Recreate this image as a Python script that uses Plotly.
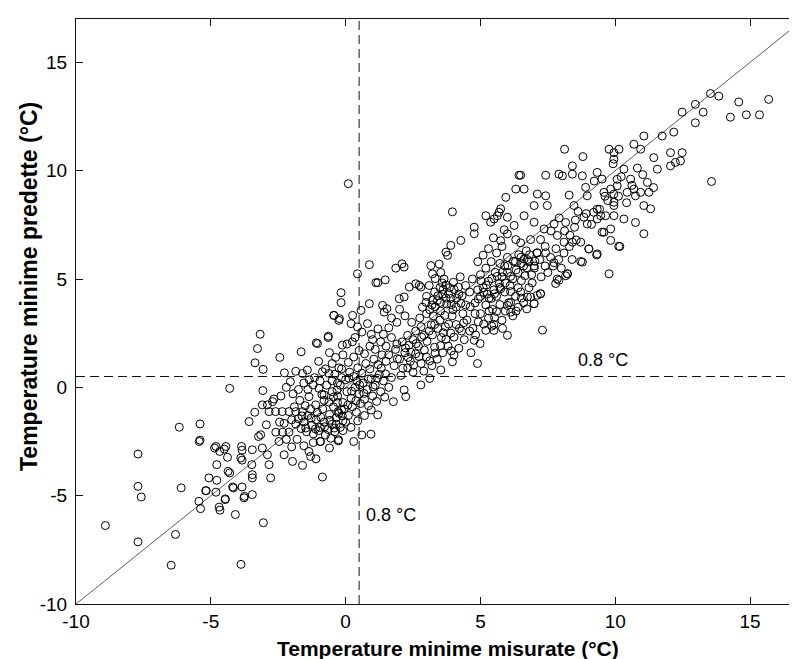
import plotly.graph_objects as go

# ---- axis settings / reference values ----
x_limits = [-10, 17]
y_limits = [-10, 17]
tick_values = [-10, -5, 0, 5, 10, 15]
tick_labels = ["-10", "-5", "0", "5", "10", "15"]
threshold_x = 0.5
threshold_y = 0.5
label_text = "0.8 °C"
x_title = "Temperature minime misurate (°C)"
y_title = "Temperature minime predette (°C)"

cold_pts = [
    (-8.91, -6.38), (-7.70, -3.08), (-7.70, -4.57), (-7.58, -5.06), (-7.70, -7.13),
    (-6.17, -1.84), (-6.10, -4.64), (-6.31, -6.79), (-6.47, -8.21), (-5.40, -1.69),
    (-5.43, -2.50), (-5.40, -2.44), (-5.44, -5.26), (-5.38, -5.60), (-5.17, -4.77),
    (-5.07, -4.18), (-4.78, -3.57), (-4.78, -4.29), (-4.81, -4.84), (-4.81, -2.73),
    (-4.67, -2.96), (-4.44, -2.73), (-4.38, -3.23), (-4.69, -5.53), (-4.66, -5.67),
    (-4.46, -5.15), (-4.36, -3.88), (-4.30, -3.95), (-4.30, -0.05), (-4.19, -4.60),
    (-4.09, -5.87), (-3.88, -8.17), (-3.86, -2.73), (-3.89, -3.26), (-3.84, -3.36),
    (-3.84, -4.60), (-3.75, -5.03), (-3.77, -5.10), (-4.86, -2.80), (-4.50, -2.85),
    (-3.84, -2.90), (-3.58, -1.58), (-3.46, -4.03), (-3.46, -4.18), (-3.46, -4.95),
    (-3.48, -3.57), (-3.46, -2.88), (-3.37, -1.15), (-3.36, 1.13), (-3.27, 1.79),
    (-3.17, 2.45), (-3.23, -2.27), (-3.15, -2.19), (-3.09, -0.81), (-3.09, -2.80),
    (-3.07, -0.15), (-3.06, 0.83), (-5.19, -4.77), (-4.47, -5.18), (-4.16, -4.64),
    (-3.05, -6.25),
]

cool_pts = [
    (-2.44, 1.38), (-2.27, 0.67), (-2.05, 0.26), (-1.85, 0.74), (-1.60, 0.64),
    (-1.42, 0.80), (-1.65, 1.64), (-1.09, 2.05), (-0.65, 2.30), (-0.43, 3.32),
    (-0.25, 3.09), (-0.12, 1.95), (-0.37, 1.38), (-0.86, 0.72), (-0.62, 0.64),
    (-1.21, 0.11), (-0.99, -0.05), (-0.80, -0.35), (-1.36, -0.43), (-1.11, -0.81),
    (-2.90, -0.81), (-2.71, -0.66), (-2.66, -0.54), (-2.84, -1.12), (-2.60, -1.12),
    (-2.35, -1.12), (-2.10, -1.12), (-1.85, -1.12), (-1.60, -1.12), (-2.94, -1.73),
    (-2.28, -1.66), (-2.59, -2.07), (-2.34, -2.07), (-2.10, -2.07), (-0.93, -2.50),
    (-0.27, -2.47), (-2.90, -3.11), (-2.84, -3.57), (-2.78, -4.18), (-2.47, -2.50),
    (-2.28, -3.11), (-1.97, -3.42), (-1.36, -2.96), (-1.30, -3.19), (-0.86, -4.14),
    (-1.75, -1.45), (-1.55, -1.60), (-1.40, -1.30), (-1.25, -1.75), (-1.10, -1.50),
    (-0.95, -1.85), (-0.80, -1.60), (-0.65, -1.95), (-0.50, -1.70), (-0.35, -1.40),
    (-1.65, -1.90), (-1.45, -2.05), (-1.20, -2.15), (-1.00, -2.00), (-0.75, -2.20),
    (-0.55, -2.35), (-0.40, -2.05), (-0.20, -1.85), (-0.10, -1.55), (-1.85, -1.70),
    (-1.90, -0.90), (-1.70, -0.60), (-1.50, -0.85), (-1.30, -1.00), (-1.05, -1.15),
    (-0.85, -1.00), (-0.60, -1.25), (-0.45, -0.90), (-0.30, -0.70), (-0.15, -1.05),
    (-1.95, -0.30), (-1.75, -0.10), (-1.55, 0.20), (-1.35, 0.35), (-1.15, 0.45),
    (-0.95, 0.30), (-0.70, 0.10), (-0.50, -0.20), (-0.30, 0.20), (-0.15, 0.45),
    (-1.80, -2.40), (-1.55, -2.70), (-1.20, -2.55), (-2.00, -2.75), (-1.10, -3.30),
    (-0.60, -2.80), (-1.60, -3.60), (-2.20, -2.40), (-2.45, -1.60), (-2.00, -1.50),
    (-0.75, 0.85), (-0.50, 1.10), (-0.25, 0.90), (-1.00, 1.20), (-0.60, 1.60),
    (-0.80, -0.60), (-0.45, -0.45), (-1.40, -0.10), (-2.20, 0.00), (-2.40, -0.40),
    (-1.04, 2.02), (-0.64, 2.36), (-0.44, 3.32), (-0.23, 3.17), (-0.17, 4.37),
    (-0.17, 3.91), (-0.26, -2.42), (-0.95, -2.50),
    (-1.62, -1.32), (-1.48, -1.88), (-1.28, -1.42), (-1.12, -1.92), (-0.92, -1.38),
    (-0.78, -1.82), (-0.58, -1.52), (-0.42, -1.88), (-0.28, -1.12), (-0.12, -1.32),
    (-0.32, -0.12), (-0.62, -0.68), (-0.88, -0.32),
]

mild_pts = [
    (-0.30, -0.40), (-0.10, -0.70), (0.05, -0.20), (0.20, -0.50), (0.35, 0.00),
    (0.50, -0.30), (0.65, 0.20), (0.80, -0.10), (0.95, 0.40), (1.10, 0.10),
    (1.25, 0.60), (1.40, 0.30), (-0.20, 0.10), (0.00, 0.35), (0.15, 0.70),
    (0.30, 0.50), (0.45, 0.90), (0.60, 0.65), (0.75, 1.10), (0.90, 0.85),
    (1.05, 1.30), (1.20, 1.05), (1.35, 1.50), (1.50, 1.20), (-0.25, -1.20),
    (-0.05, -1.00), (0.10, -1.30), (0.25, -0.90), (0.40, -1.15), (0.55, -0.75),
    (0.70, -0.55), (0.85, -0.85), (1.00, -0.40), (1.15, -0.65), (1.30, -0.20),
    (1.45, -0.45), (1.60, 0.00), (1.70, 0.45), (-0.40, 0.60), (-0.15, 0.85),
    (0.10, 1.15), (0.30, 1.40), (0.50, 1.70), (0.70, 1.55), (0.90, 1.90),
    (1.10, 1.75), (1.30, 2.10), (1.50, 1.90), (1.70, 2.30), (1.90, 2.00),
    (0.00, -1.60), (0.20, -1.85), (0.45, -1.55), (0.70, -1.30), (0.95, -1.05),
    (-0.35, -1.70), (-0.10, -2.00), (0.60, -2.20), (0.30, -2.50), (-0.50, 0.30),
    (0.05, 2.00), (0.35, 2.30), (-0.10, 1.50), (0.60, 2.55), (0.95, 2.45),
    (1.20, 2.70), (1.60, 2.75), (0.25, 2.10),
    (0.44, 5.24), (0.88, 5.66), (1.12, 4.83), (1.19, 4.83), (1.47, 4.96),
    (1.86, 5.50), (2.09, 5.70), (2.17, 5.55), (0.26, 3.32), (0.57, 3.55),
    (0.88, 3.86), (0.20, 2.94), (0.44, 2.79), (0.81, 2.94), (1.37, 3.78),
    (1.53, 3.63), (1.43, 3.47), (1.99, 4.09), (2.17, 4.17), (2.36, 4.63),
    (2.60, 4.78), (2.73, 4.71), (2.79, 4.63), (2.17, -0.12), (2.23, -0.43),
    (1.77, -0.66), (1.19, -1.27), (0.94, -2.16), (0.10, 9.40),
    (0.08, -0.82), (0.22, -0.18), (0.38, -0.62), (0.52, 0.12), (0.68, -0.28),
    (0.84, 0.38), (1.02, 0.02), (1.18, 0.42), (1.32, 0.88), (1.48, 0.62),
    (0.12, 0.42), (0.42, 0.28),
]

warm_pts = [
    (1.80, 1.00), (2.00, 1.30), (2.20, 1.60), (2.40, 1.20), (2.60, 1.55),
    (2.30, 0.90), (2.05, 0.55), (2.50, 0.70), (2.80, 1.10), (3.00, 1.40),
    (2.90, 0.75), (3.20, 1.00), (3.40, 1.30), (3.60, 1.60), (3.30, 1.85),
    (3.80, 1.90), (2.70, 1.90), (2.50, 2.20), (2.30, 2.40), (2.10, 2.10),
    (2.60, 2.60), (2.80, 2.80), (2.90, 2.40), (3.10, 2.60), (3.30, 2.90),
    (2.45, 3.00), (2.75, 3.20), (3.00, 3.40), (3.25, 3.30), (3.50, 3.10),
    (3.70, 2.80), (3.90, 2.50), (3.55, 2.30), (4.10, 2.90), (4.30, 2.60),
    (1.90, 3.00), (2.20, 3.30), (1.70, 3.20), (2.00, 3.60), (3.20, 3.80),
    (3.40, 4.00), (3.60, 4.30), (3.75, 3.85), (3.90, 4.10), (3.50, 4.60),
    (3.30, 4.40), (3.85, 4.60), (4.00, 4.85), (3.65, 5.00), (3.10, 4.70),
    (3.00, 4.20), (2.85, 3.70), (4.20, 4.30), (4.10, 3.70), (4.35, 3.40),
    (4.50, 3.10), (4.60, 2.60), (4.40, 2.20), (4.20, 1.80), (4.65, 1.60),
    (1.60, 1.50), (1.00, 2.20), (1.40, 2.45), (2.35, 1.95), (1.85, 1.75),
    (3.95, 3.30), (4.45, 3.80), (4.80, 3.40), (4.25, 5.10), (4.45, 4.70),
    (3.16, 5.62), (3.22, 5.24), (3.47, 5.69), (3.53, 5.30), (3.72, 6.24),
    (3.78, 6.09), (3.90, 6.55), (4.27, 6.78), (3.96, 8.10), (4.77, 7.39),
    (4.77, 7.09), (5.20, 7.92), (5.63, 7.92), (5.69, 8.08), (5.75, 6.77),
    (6.00, 7.08), (6.25, 7.47), (6.99, 7.62), (7.36, 7.31), (7.23, 4.32),
    (7.30, 2.64), (6.00, 3.78), (6.12, 3.47), (6.00, 2.40), (5.50, 2.63),
    (5.20, 2.63), (6.99, 3.86), (7.11, 4.25), (6.74, 4.17), (6.49, 4.40),
    (4.89, 1.10), (4.99, 2.02), (4.77, 2.17), (4.02, 1.49), (3.96, 1.18),
    (3.53, 0.80), (3.12, 0.41), (2.79, 0.11),
    (2.12, 0.88), (2.32, 1.38), (2.52, 1.02), (2.72, 1.42), (2.92, 1.72),
    (3.12, 1.22), (3.32, 1.58), (3.52, 1.92), (3.72, 2.22), (3.92, 1.68),
    (2.22, 1.82), (2.62, 2.02), (2.82, 2.32), (3.02, 2.12), (3.22, 2.42),
    (3.42, 2.72), (3.62, 2.52), (3.82, 2.92), (4.02, 2.32), (4.22, 2.72),
    (1.92, 1.32), (2.42, 1.62), (3.18, 2.88), (3.68, 3.32), (4.38, 2.98),
    (3.12, 3.58), (3.32, 3.72), (3.52, 3.92), (3.72, 4.12), (3.92, 3.82),
    (4.12, 4.12), (3.42, 4.22), (3.62, 4.52), (3.82, 4.32), (4.02, 4.52),
    (3.22, 4.02), (3.52, 3.52), (3.98, 3.58), (4.28, 3.88), (3.72, 4.72),
    (3.32, 5.02), (3.58, 4.82), (4.18, 4.62), (4.32, 4.22), (2.98, 3.92),
]

band_pts = [
    (4.80, 3.90), (5.00, 4.20), (5.20, 3.80), (5.40, 4.10), (5.10, 4.60),
    (5.30, 4.90), (5.50, 4.50), (5.70, 4.80), (5.60, 4.20), (5.90, 4.40),
    (6.10, 4.70), (5.80, 5.10), (6.00, 5.30), (6.20, 5.00), (6.40, 5.30),
    (6.60, 5.60), (6.30, 5.80), (6.50, 6.00), (6.80, 5.80), (6.70, 6.30),
    (5.00, 5.20), (5.20, 5.50), (5.40, 5.80), (4.90, 5.80), (5.10, 6.10),
    (5.60, 6.20), (5.80, 6.50), (5.30, 6.40), (6.00, 6.00), (4.70, 5.00),
    (5.00, 3.40), (5.30, 3.20), (5.60, 3.50), (5.80, 3.10), (5.50, 2.90),
    (6.20, 3.30), (6.40, 3.70), (6.60, 3.90), (6.30, 4.20), (6.80, 4.60),
    (5.90, 5.60), (6.40, 4.60), (5.75, 4.55), (5.55, 5.30), (6.65, 5.15),
    (6.90, 5.20), (7.00, 5.50), (7.20, 5.90), (7.40, 5.60), (7.10, 6.20),
    (4.60, 4.40), (4.90, 4.50), (5.45, 3.60), (6.05, 3.90), (5.25, 4.30),
    (10.13, 6.51), (9.31, 6.11), (9.02, 6.39), (8.72, 5.81), (8.22, 5.24),
    (7.91, 4.94), (7.79, 4.79), (7.23, 4.32), (6.99, 3.86), (6.86, 4.17),
    (7.50, 5.30), (7.70, 5.60), (7.90, 5.90), (8.10, 6.20), (7.60, 6.00),
    (7.80, 6.40), (8.30, 6.50), (8.00, 5.50), (8.40, 5.90), (7.40, 6.50),
    (7.25, 5.10), (8.55, 6.80),
    (4.92, 4.08), (5.12, 4.38), (5.32, 4.12), (5.52, 4.32), (5.72, 4.62),
    (5.92, 4.82), (6.12, 5.12), (6.32, 5.42), (6.52, 5.72), (6.72, 5.52),
    (5.22, 4.72), (5.42, 5.02), (5.62, 5.12), (5.82, 5.32), (6.02, 5.62),
    (6.22, 5.82), (6.42, 6.12), (6.62, 5.92), (6.82, 6.12), (7.02, 5.82),
    (5.02, 4.92), (5.72, 5.72), (6.12, 4.42), (6.52, 4.92), (6.92, 4.82),
    (4.72, 2.72), (4.92, 3.02), (5.12, 2.92), (5.32, 3.52), (5.52, 3.22),
    (5.72, 3.82), (5.92, 3.52), (6.12, 3.92), (4.82, 2.42), (5.42, 2.82),
    (6.32, 3.52), (6.52, 4.12), (6.72, 3.62), (5.82, 2.72), (4.62, 3.72),
]

hot_pts = [
    (13.53, 13.56), (13.84, 13.44), (12.97, 13.06), (13.26, 12.70), (12.97, 12.21),
    (12.48, 12.70), (12.17, 11.78), (11.74, 11.60), (11.06, 11.60), (10.69, 11.22),
    (10.94, 10.99), (11.43, 10.60), (11.56, 10.07), (12.05, 10.83), (12.48, 10.83),
    (12.42, 10.45), (12.05, 10.22), (13.57, 9.50), (9.77, 10.99), (9.95, 10.83),
    (10.14, 10.99), (9.95, 10.53), (10.32, 10.07), (10.57, 9.61), (10.69, 9.15),
    (10.44, 9.00), (10.75, 8.84), (10.94, 9.00), (11.19, 9.46), (11.06, 8.39),
    (11.31, 8.24), (11.06, 7.09), (9.33, 9.92), (9.51, 9.61), (9.58, 9.00),
    (9.95, 8.92), (10.07, 9.30), (9.33, 8.22), (9.46, 7.92), (9.64, 7.92),
    (9.95, 7.92), (10.32, 7.77), (10.75, 7.61), (9.95, 8.39), (9.51, 7.16),
    (9.83, 7.31), (9.83, 6.78), (10.17, 6.50), (9.77, 5.24), (8.90, 9.23),
    (8.96, 8.84), (8.47, 8.39), (8.84, 7.85), (9.20, 8.08), (8.78, 9.76),
    (8.41, 10.22), (8.41, 9.84), (8.04, 9.76), (7.91, 9.84), (7.42, 9.79),
    (8.12, 10.99), (8.80, 10.65), (6.43, 9.79), (6.49, 9.79), (6.31, 9.15),
    (6.62, 9.15), (7.11, 8.92), (7.42, 8.84), (7.48, 8.39), (6.99, 8.39),
    (6.62, 7.92), (5.94, 8.77), (5.75, 8.24), (5.51, 7.77), (5.38, 7.62),
    (6.00, 7.85), (8.29, 8.87), (8.49, 7.39), (8.96, 7.54), (9.33, 7.77),
    (9.58, 7.16), (7.73, 7.54), (8.16, 7.61), (7.85, 7.01), (8.10, 6.70),
    (8.41, 6.70), (8.72, 6.70), (9.02, 6.39), (9.33, 6.16), (8.78, 5.78),
    (8.23, 5.24), (5.48, 6.90), (5.88, 7.27), (6.31, 6.82), (6.49, 6.67),
    (6.86, 6.82), (7.23, 6.82), (7.11, 6.21), (7.42, 6.21), (6.74, 5.90),
    (6.99, 5.60), (7.73, 5.75), (7.85, 5.00), (8.16, 5.15), (12.23, 10.38),
    (11.25, 9.00), (10.07, 9.60), (9.83, 9.15), (9.95, 8.54), (14.58, 13.17),
    (15.69, 13.29), (14.27, 12.47), (14.86, 12.58), (15.35, 12.58),
    (8.12, 7.22), (8.52, 7.72), (8.92, 8.02), (9.12, 7.52), (9.42, 8.22),
    (9.72, 8.62), (10.12, 8.82), (10.42, 8.52), (10.62, 9.32), (9.62, 8.82),
    (8.62, 8.12), (8.32, 7.02), (7.92, 7.82), (7.62, 7.22), (9.22, 9.52),
    (10.22, 9.72), (11.02, 9.82), (11.42, 9.22), (10.82, 10.12), (9.92, 10.32),
]

all_pts = cold_pts + cool_pts + mild_pts + warm_pts + band_pts + hot_pts
measured = [p[0] for p in all_pts]
predicted = [p[1] for p in all_pts]

FONT = "Liberation Sans, Arial, Helvetica, sans-serif"
INK = "#111111"

# plot-area geometry (pixels)
W, H = 797, 659
M_L, M_R, M_T, M_B = 68, 1, 11, 63
plot_w = W - M_L - M_R
plot_h = H - M_T - M_B

fig = go.Figure()
fig.add_trace(go.Scatter(x=x_limits, y=y_limits, mode="lines",
                         line=dict(color="#333333", width=0.8), hoverinfo="skip"))
fig.add_trace(go.Scatter(x=[threshold_x, threshold_x], y=y_limits, mode="lines",
                         line=dict(color=INK, width=1, dash="9px,5px"), hoverinfo="skip"))
fig.add_trace(go.Scatter(x=x_limits, y=[threshold_y, threshold_y], mode="lines",
                         line=dict(color=INK, width=1, dash="9px,5px"), hoverinfo="skip"))
fig.add_trace(go.Scatter(x=measured, y=predicted, mode="markers",
                         marker=dict(symbol="circle-open", size=8, color="black",
                                     line=dict(width=1, color="black"))))

fig.add_annotation(x=9.55, y=1.24, text=label_text, showarrow=False,
                   xanchor="center", yanchor="middle",
                   font=dict(family=FONT, size=18, color="black"))
fig.add_annotation(x=0.69, y=-5.87, text=label_text, showarrow=False,
                   xanchor="left", yanchor="middle",
                   font=dict(family=FONT, size=18, color="black"))

# axis titles placed as annotations (position)
fig.add_annotation(xref="paper", yref="paper", x=(440.5 - M_L) / plot_w, y=0,
                   yshift=-(640 - (H - M_B)), text=x_title, showarrow=False,
                   xanchor="center", yanchor="middle",
                   font=dict(family=FONT, size=21, color="black", weight="bold"))
fig.add_annotation(xref="paper", yref="paper", x=0, xshift=21 - M_L,
                   y=((H - M_B) - 279) / plot_h, text=y_title, showarrow=False,
                   textangle=-90, xanchor="center", yanchor="middle",
                   font=dict(family=FONT, size=23, color="black", weight="bold"))

axis_common = dict(showgrid=False, zeroline=False, showline=True, linecolor=INK,
                   linewidth=1, mirror="ticks", ticks="inside", ticklen=7,
                   tickwidth=1, tickcolor=INK, tickvals=tick_values,
                   ticktext=tick_labels,
                   tickfont=dict(family=FONT, size=19, color="black"))

fig.update_layout(
    width=W, height=H,
    margin=dict(l=M_L, r=M_R, t=M_T, b=M_B),
    paper_bgcolor="white", plot_bgcolor="white",
    showlegend=False,
    xaxis=dict(range=x_limits, **axis_common),
    yaxis=dict(range=y_limits, ticklabelstandoff=4, **axis_common),
)

fig.write_html("out.html")
